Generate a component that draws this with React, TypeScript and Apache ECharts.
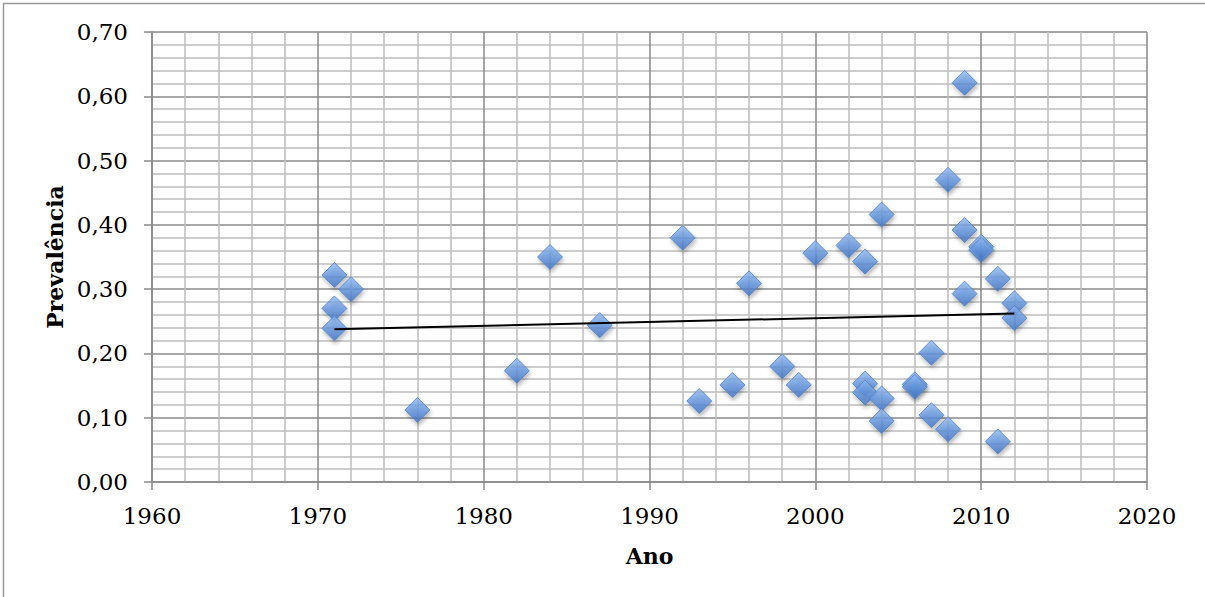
import React, { useEffect, useRef } from "react";
import * as echarts from "echarts";

// Scatter data (year, prevalence)
const years: number[] = [
  1971, 1971, 1971, 1972, 1976, 1982, 1984, 1987, 1992, 1993, 1995, 1996, 1998, 1999,
  2000, 2002, 2003, 2003, 2003, 2004, 2004, 2004, 2006, 2006, 2007, 2007, 2008, 2008,
  2009, 2009, 2009, 2010, 2010, 2011, 2011, 2012, 2012,
];
const prevalence: number[] = [
  0.322, 0.27, 0.239, 0.3, 0.112, 0.173, 0.35, 0.244, 0.38, 0.126, 0.151, 0.309, 0.18, 0.151,
  0.356, 0.368, 0.343, 0.153, 0.139, 0.416, 0.13, 0.095, 0.152, 0.148, 0.201, 0.104, 0.47, 0.082,
  0.621, 0.392, 0.293, 0.366, 0.361, 0.316, 0.063, 0.278, 0.255,
];
// Linear trend line endpoints
const trendYears: number[] = [1971, 2012];
const trendValues: number[] = [0.2375, 0.262];

const xTicks = { min: 1960, max: 2020, interval: 10 };
const yTicks = { min: 0, max: 0.7, interval: 0.1 };

const FONT = "DejaVu Serif";
const MAJOR = "#8a8a8a";
const MINOR = "#bdbdbd";

export default function App() {
  const ref = useRef<HTMLDivElement>(null);
  useEffect(() => {
    if (!ref.current) return;
    const chart = echarts.init(ref.current, undefined, { renderer: "svg" });
    const points = years.map((y, i) => [y, prevalence[i]]);
    const trend = trendYears.map((y, i) => [y, trendValues[i]]);
    chart.setOption({
      animation: false,
      backgroundColor: "#ffffff",
      grid: { left: 152, right: 58, top: 32, bottom: 115, containLabel: false },
      graphic: [
        { type: "line", shape: { x1: 3.5, y1: 3, x2: 3.5, y2: 597 }, style: { stroke: "#9a9a9a", lineWidth: 1.5 } },
        { type: "line", shape: { x1: 3, y1: 3.5, x2: 1205, y2: 3.5 }, style: { stroke: "#9a9a9a", lineWidth: 1.5 } },
      ],
      xAxis: {
        type: "value",
        min: xTicks.min,
        max: xTicks.max,
        interval: xTicks.interval,
        name: "Ano",
        nameLocation: "middle",
        nameGap: 63,
        nameTextStyle: { fontFamily: FONT, fontSize: 22, fontWeight: "bold", color: "#000" },
        axisLine: { show: true, lineStyle: { color: MAJOR, width: 1.5 } },
        axisTick: { show: true, inside: false, length: 8, lineStyle: { color: MAJOR, width: 1.5 } },
        axisLabel: {
          fontFamily: FONT,
          fontSize: 23,
          color: "#000",
          margin: 22,
          formatter: (v: number) => String(v),
        },
        splitLine: { show: true, lineStyle: { color: MAJOR, width: 1.5 } },
        minorTick: { show: false, splitNumber: 5 },
        minorSplitLine: { show: true, lineStyle: { color: MINOR, width: 1.5 } },
      },
      yAxis: {
        type: "value",
        min: yTicks.min,
        max: yTicks.max,
        interval: yTicks.interval,
        name: "Prevalência",
        nameLocation: "middle",
        nameGap: 86,
        nameTextStyle: { fontFamily: FONT, fontSize: 22, fontWeight: "bold", color: "#000" },
        axisLine: { show: true, lineStyle: { color: MAJOR, width: 1.5 } },
        axisTick: { show: true, inside: false, length: 8, lineStyle: { color: MAJOR, width: 1.5 } },
        axisLabel: {
          fontFamily: FONT,
          fontSize: 23,
          color: "#000",
          margin: 24,
          formatter: (v: number) => v.toFixed(2).replace(".", ","),
        },
        splitLine: { show: true, lineStyle: { color: MAJOR, width: 1.5 } },
        minorTick: { show: false, splitNumber: 5 },
        minorSplitLine: { show: true, lineStyle: { color: MINOR, width: 1.5 } },
      },
      series: [
        {
          type: "scatter",
          data: points,
          symbol: "diamond",
          symbolSize: 25,
          z: 3,
          itemStyle: {
            color: new echarts.graphic.LinearGradient(0, 0, 0, 1, [
              { offset: 0, color: "#92baf0" },
              { offset: 0.5, color: "#6396de" },
              { offset: 1, color: "#3f72c2" },
            ]),
            borderColor: "#4f80c8",
            borderWidth: 1,
            shadowBlur: 4,
            shadowColor: "rgba(0,0,0,0.35)",
            shadowOffsetX: 1,
            shadowOffsetY: 3,
          },
          emphasis: { disabled: true },
        },
        {
          type: "line",
          data: trend,
          symbol: "none",
          z: 4,
          lineStyle: { color: "#000", width: 2 },
          emphasis: { disabled: true },
        },
      ],
    });
    return () => chart.dispose();
  }, []);
  return (
    <div
      ref={ref}
      style={{ position: "fixed", left: 0, top: 0, width: 1205, height: 597, background: "#fff" }}
    />
  );
}
